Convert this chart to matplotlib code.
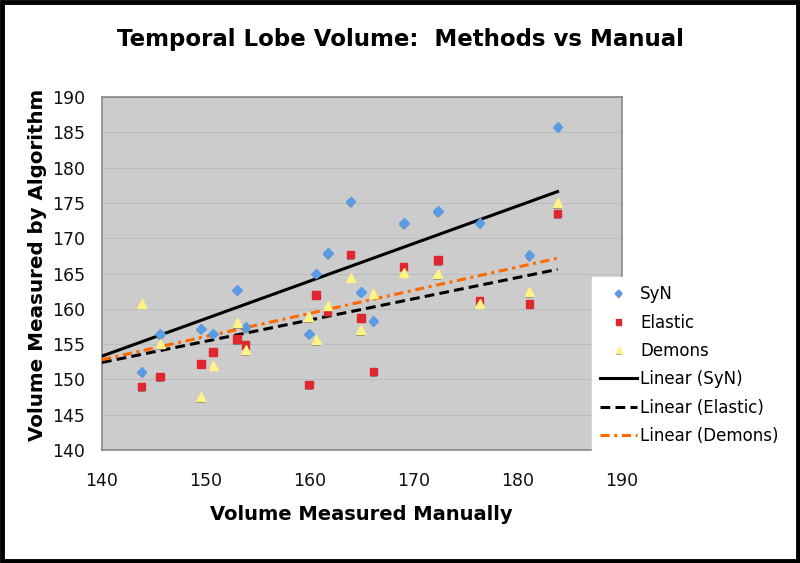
import numpy as np
import matplotlib.pyplot as plt
from matplotlib.patches import Rectangle
import matplotlib.patheffects as pe

# manual volume (x) and the three algorithm volumes (y)
manual = [143.8, 145.6, 149.5, 150.7, 153.0, 153.8, 159.9, 160.6, 161.7,
          163.9, 164.9, 166.1, 169.0, 172.3, 176.3, 181.1, 183.8]
syn = [151.1, 156.4, 157.2, 156.5, 162.7, 157.4, 156.5, 165.0, 167.9,
       175.2, 162.4, 158.3, 172.1, 173.8, 172.2, 167.6, 185.8]
elastic = [149.0, 150.4, 152.2, 153.9, 155.7, 154.9, 149.3, 162.0, 159.6,
           167.7, 158.7, 151.1, 166.0, 166.9, 161.2, 160.7, 173.5]
demons = [160.8, 155.1, 147.6, 152.0, 158.0, 154.2, 158.9, 155.6, 160.5,
          164.5, 157.0, 162.2, 165.2, 165.0, 160.8, 162.4, 175.0]

# trendlines: (slope, value at x=140)
trend_syn = (0.532, 153.3)
trend_elastic = (0.301, 152.4)
trend_demons = (0.328, 152.8)

x_ticks = [140, 150, 160, 170, 180, 190]
y_ticks = [140, 145, 150, 155, 160, 165, 170, 175, 180, 185, 190]

fig = plt.figure(figsize=(8, 5.63), dpi=100)
ax = fig.add_axes([0.1275, 0.2007, 0.65, 0.627])
ax.set_facecolor('#cccccc')

x = np.array(manual)
shadow = [pe.SimplePatchShadow(offset=(0, -1.2), shadow_rgbFace='#555555', alpha=0.6), pe.Normal()]

ax.plot(x, syn, linestyle='none', marker='D', ms=5, color='#5b9be6',
        mec='#5b9be6', label='SyN', path_effects=shadow, zorder=4)
ax.plot(x, elastic, linestyle='none', marker='s', ms=5.5, color='#e0262e',
        mec='#e0262e', label='Elastic', path_effects=shadow, zorder=4)
ax.plot(x, demons, linestyle='none', marker='^', ms=6.5, color='#fff383',
        mec='#fff383', label='Demons', path_effects=shadow, zorder=4)

xs = np.array([140, max(manual)])
def trend(t):
    return t[1] + t[0] * (xs - 140)

ax.plot(xs, trend(trend_syn), color='black', lw=2.2, label='Linear (SyN)', zorder=3)
ax.plot(xs, trend(trend_elastic), color='black', lw=2.2, dashes=(3.2, 1.7),
        label='Linear (Elastic)', zorder=3)
ax.plot(xs, trend(trend_demons), color='#ff6a00', lw=2.2, dashes=(3, 1.5, 1, 1.5),
        label='Linear (Demons)', zorder=3)

ax.set_xlim(140, 190)
ax.set_ylim(140, 190)
ax.set_xticks(x_ticks)
ax.set_yticks(y_ticks)
ax.yaxis.grid(True, color='#bdbdbd', lw=0.8)
ax.set_axisbelow(True)
ax.tick_params(length=0, labelsize=12.5, colors='#111111')
ax.tick_params(axis='x', pad=16)
ax.tick_params(axis='y', pad=12)
for s in ax.spines.values():
    s.set_color('#888888')
    s.set_linewidth(1.2)

fig.text(0.5, 0.929, 'Temporal Lobe Volume:  Methods vs Manual', ha='center', va='center',
         fontsize=16.5, fontweight='bold')
fig.text(0.452, 0.087, 'Volume Measured Manually', ha='center', va='center',
         fontsize=14, fontweight='bold')
fig.text(0.047, 0.529, 'Volume Measured by Algorithm', ha='center', va='center',
         rotation=90, fontsize=14.3, fontweight='bold')

leg = fig.legend(loc='upper left', bbox_to_anchor=(0.74, 0.508), fontsize=12,
                 frameon=True, fancybox=False, edgecolor='white', facecolor='white',
                 framealpha=1, borderaxespad=0, handlelength=2.2, handletextpad=0.2,
                 labelspacing=0.62, borderpad=0.5, markerscale=0.7)
leg.set_zorder(10)

fig.patches.append(Rectangle((0.003, 0.004), 0.994, 0.992, transform=fig.transFigure,
                             fill=False, edgecolor='black', lw=3.5))

fig.savefig('out.png', dpi=100)
